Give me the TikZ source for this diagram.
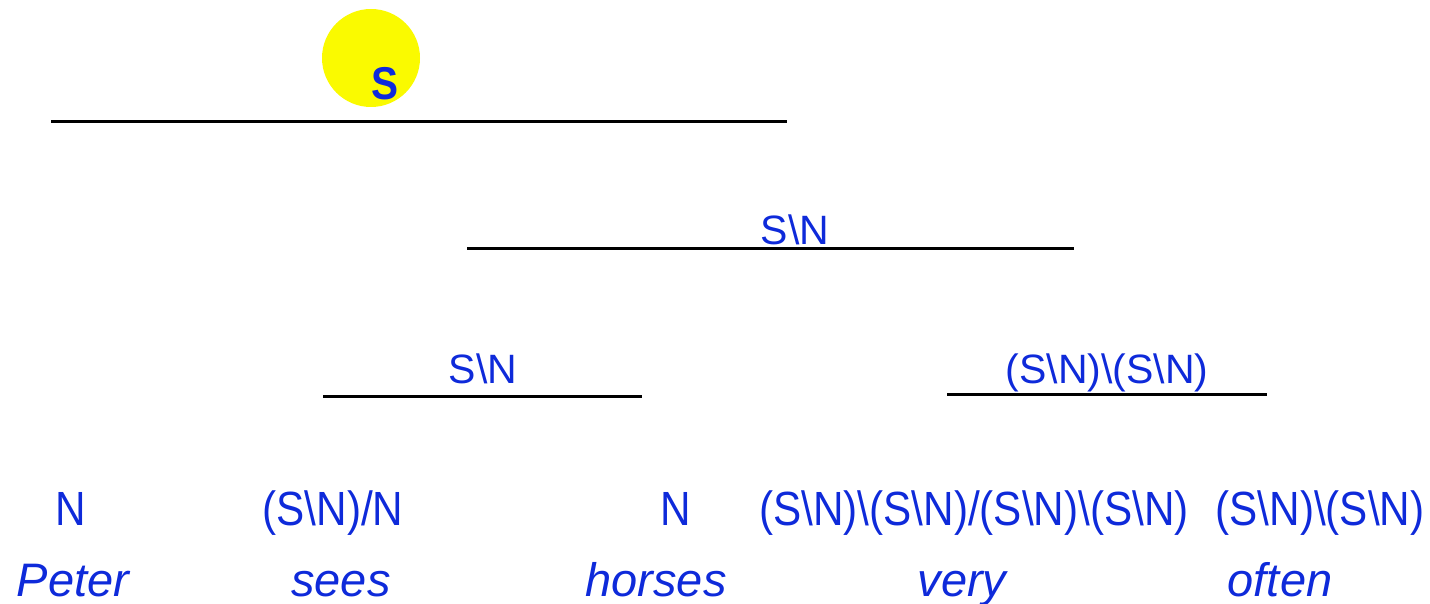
\documentclass[tikz,border=0pt]{standalone}
\usepackage{fontspec}
\setmainfont{Liberation Sans}
\newfontfamily\catfont[FakeStretch=0.88]{Liberation Sans}
\definecolor{catblue}{RGB}{14,42,218}
\definecolor{sunyellow}{RGB}{250,250,0}
\tikzset{
  cat/.style={anchor=base, inner sep=0pt, text=catblue, font=\catfont\fontsize{48}{50}\selectfont},
  midcat/.style={anchor=base, inner sep=0pt, text=catblue, font=\fontsize{41}{44}\selectfont},
  word/.style={anchor=base, inner sep=0pt, text=catblue, font=\itshape\fontsize{47}{50}\selectfont},
  rule/.style={draw=black, line width=3pt},
}
\begin{document}
\begin{tikzpicture}[x=1pt,y=-1pt]
\useasboundingbox (0,0) rectangle (1430,604);
% root
\fill[sunyellow] (371,58) circle (49);
\node[cat, font=\catfont\bfseries\fontsize{46}{48}\selectfont] (s) at (385,100) {S};
\coordinate (r1a) at (51,122); \coordinate (r1b) at (787,122);
\draw[rule] (r1a) -- (r1b);
% S\N upper
\node[midcat] (vp2) at (795,244) {S\textbackslash N};
\coordinate (r2a) at (467,249); \coordinate (r2b) at (1074,249);
\draw[rule] (r2a) -- (r2b);
% S\N lower
\node[midcat] (vp1) at (483,383) {S\textbackslash N};
\coordinate (r3a) at (323,396); \coordinate (r3b) at (642,396);
\draw[rule] (r3a) -- (r3b);
% adverb phrase
\node[midcat] (adv) at (1107,383) {(S\textbackslash N)\textbackslash(S\textbackslash N)};
\coordinate (r4a) at (947,394); \coordinate (r4b) at (1267,394);
\draw[rule] (r4a) -- (r4b);
% lexical categories
\node[cat] (c1) at (71,525) {N};
\node[cat] (c2) at (333,525) {(S\textbackslash N)/N};
\node[cat] (c3) at (676,525) {N};
\node[cat] (c4) at (974,525) {(S\textbackslash N)\textbackslash(S\textbackslash N)/(S\textbackslash N)\textbackslash(S\textbackslash N)};
\node[cat] (c5) at (1320,525) {(S\textbackslash N)\textbackslash(S\textbackslash N)};
% words
\node[word] (w1) at (73,596) {Peter};
\node[word] (w2) at (341,596) {sees};
\node[word] (w3) at (656,596) {horses};
\node[word] (w4) at (962,596) {very};
\node[word] (w5) at (1280,596) {often};
\end{tikzpicture}
\end{document}
